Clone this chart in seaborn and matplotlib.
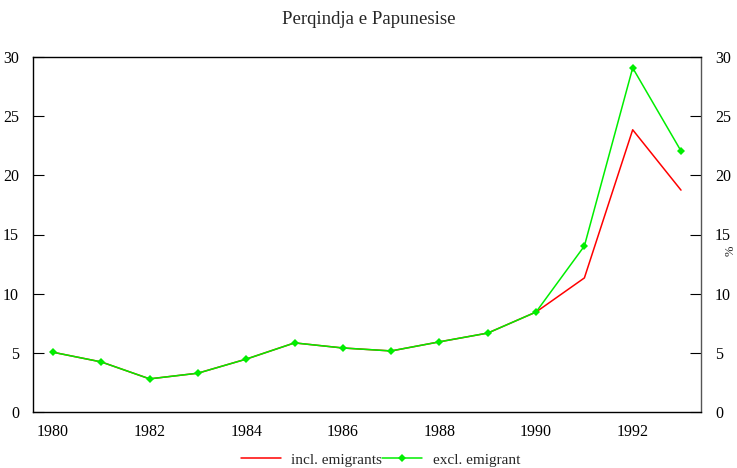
import matplotlib
matplotlib.use("Agg")
import matplotlib.pyplot as plt
import seaborn as sns
import pandas as pd

years = list(range(1980, 1994))
incl_emigrants = [5.05, 4.23, 2.8, 3.28, 4.47, 5.84, 5.41, 5.16, 5.93, 6.67, 8.45, 11.33, 23.85, 18.75]
excl_emigrant = [5.05, 4.23, 2.8, 3.28, 4.47, 5.84, 5.41, 5.16, 5.93, 6.67, 8.45, 14.03, 29.08, 22.06]

sns.set_style("white")
plt.rcParams['font.family'] = ['Liberation Serif', 'DejaVu Serif']

df = pd.DataFrame({"year": years, "incl": incl_emigrants, "excl": excl_emigrant})

fig = plt.figure(figsize=(7.37, 4.68), dpi=100)
ax = fig.add_axes([33/737, 1-412/468, (701-33)/737, (412-57)/468])

sns.lineplot(data=df, x="year", y="incl", ax=ax, color="#ff0000", lw=1.1,
             label="incl. emigrants")
sns.lineplot(data=df, x="year", y="excl", ax=ax, color="#00ee00", lw=1.1,
             marker="D", markersize=4, markeredgewidth=0, label="excl. emigrant")

ax.set_xlim(1980 - 20/48.3, 1993 + 20/48.3)
ax.set_ylim(0, 30)
ax.set_xticks([1980, 1982, 1984, 1986, 1988, 1990, 1992])
ax.set_xticks(range(1980, 1994), minor=True)
ax.set_yticks([0, 5, 10, 15, 20, 25, 30])
ax.set_xlabel("")
ax.set_ylabel("")
for s in ax.spines.values():
    s.set_color("black")
    s.set_linewidth(1.0)
ax.spines["right"].set_color("#555555")
ax.tick_params(axis="both", which="both", direction="in", labelsize=11.5, colors="black")
ax.tick_params(axis="x", which="major", length=6, pad=9)
ax.tick_params(axis="x", which="minor", length=3)
ax.tick_params(axis="y", length=8, pad=10, left=True, right=True, labelleft=True, labelright=True)

ax.text(1.045, 0.455, "%", transform=ax.transAxes, rotation=90, fontsize=9,
        va="center", ha="center")

fig.suptitle("Perqindja e Papunesise", y=1-20/468, fontsize=13.5, va="center")

leg = ax.legend(loc="center", bbox_to_anchor=(0.52, -0.135), ncol=2, frameon=False,
                fontsize=11, handlelength=2.6, columnspacing=0.0, handletextpad=0.7)

fig.savefig("out.png", dpi=100)
